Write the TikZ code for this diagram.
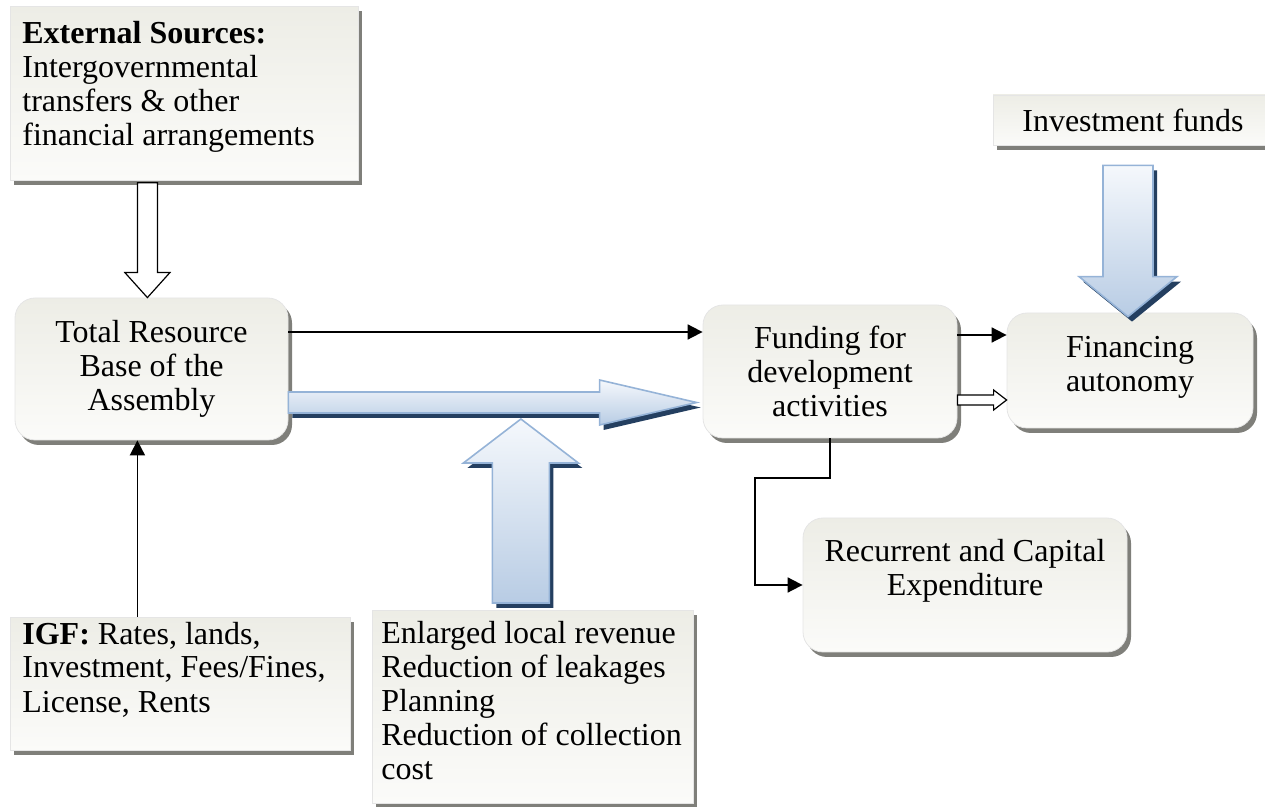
\documentclass[tikz,border=0pt]{standalone}
\usepackage{fontspec}
\setmainfont{Liberation Serif}
\usetikzlibrary{arrows.meta,calc,shadows}

\definecolor{boxtop}{HTML}{EDEDE6}
\definecolor{boxbot}{HTML}{FBFBF9}
\definecolor{boxshade}{HTML}{7F7F7A}
\definecolor{bluetop}{HTML}{F5F8FC}
\definecolor{bluebot}{HTML}{B8CCE4}
\definecolor{blueline}{HTML}{95B3D7}
\definecolor{navy}{HTML}{243F60}

\begin{document}
\begin{tikzpicture}[x=0.5pt, y=-0.5pt,
  font=\fontsize{16pt}{17pt}\selectfont,
  block/.style={draw=black!10, line width=0.4pt, top color=boxtop, bottom color=boxbot,
    drop shadow={shadow xshift=2pt, shadow yshift=-2.5pt, fill=boxshade, opacity=1},
    inner sep=0pt},
  textblock/.style={block, align=flush left, anchor=north west, inner xsep=6pt},
  roundblock/.style={block, rounded corners=10pt, align=center},
  conn/.style={-{Triangle[length=7.5pt, width=7.5pt]}, line width=0.9pt},
  blockarrow/.style n args={3}{to path={let \p1=(\tikztostart), \p2=(\tikztotarget),
      \n1={atan2(\y2-\y1,\x2-\x1)} in
      ($(\p1)+(\n1+90:#1)$) -- ($(\p2)+(\n1+180:#3)+(\n1+90:#1)$)
      -- ($(\p2)+(\n1+180:#3)+(\n1+90:#2)$) -- (\p2)
      -- ($(\p2)+(\n1+180:#3)+(\n1-90:#2)$) -- ($(\p2)+(\n1+180:#3)+(\n1-90:#1)$)
      -- ($(\p1)+(\n1-90:#1)$) -- cycle}},
  hollow/.style={draw=black, line width=0.6pt, fill=white},
  bluearrow/.style={draw=blueline, line width=0.8pt, top color=bluetop, bottom color=bluebot,
    drop shadow={shadow xshift=2pt, shadow yshift=-2.5pt, fill=navy, opacity=1}}]

  \useasboundingbox (0,0) rectangle (1265,807);

  % sources
  \node[textblock, text width=162pt, minimum height=87pt, text depth=60.5pt] (ext) at (10,6)
    {\textbf{External Sources:}\\ Intergovernmental\\ transfers \& other\\ financial arrangements};
  \node[textblock, text width=158pt, minimum height=66.5pt, text depth=51pt] (igf) at (10,617)
    {\textbf{IGF:} Rates, lands,\\ Investment, Fees/Fines,\\ License, Rents};
  \node[textblock, inner xsep=4.5pt, text width=151.5pt, minimum height=96.5pt, text depth=74.5pt] (enl) at (372,610)
    {Enlarged local revenue\\ Reduction of leakages\\ Planning\\ Reduction of collection\\ cost};
  \node[block, minimum width=140pt, minimum height=25pt] (inv) at (1133,120) {Investment funds};

  % main flow
  \node[roundblock, minimum width=136.5pt, minimum height=71pt] (total) at (151.5,369)
    {Total Resource\\ Base of the\\ Assembly};
  \node[roundblock, minimum width=127pt, minimum height=66.5pt] (fund) at (830,371.5)
    {Funding for\\ development\\ activities};
  \node[roundblock, minimum width=123pt, minimum height=57.5pt, text depth=6.5pt] (fin) at (1130,370.5)
    {Financing\\ autonomy};
  \node[roundblock, minimum width=162pt, minimum height=67pt, text depth=17.5pt] (rec) at (965,585)
    {Recurrent and Capital\\ Expenditure};

  \coordinate (extout)  at ($(ext.south)+(-37,2)$);
  \coordinate (baseout) at ($(total.east)+(0,33.5)$);
  \coordinate (enlout)  at ($(enl.north)+(-12,-7)$);
  \coordinate (merge)   at ($(enlout |- baseout)+(0,16.5)$);
  \coordinate (invout)  at ($(fin.north |- inv.south)+(-2,20)$);
  \coordinate (fundout) at ($(fund.east)+(0,28.5)$);
  \coordinate (igfup)   at ($(igf.north)+(-43,0)$);

  % thin connectors
  \draw[conn] ($(total.east)+(0,-37)$) -- ($(total.east -| fund.west)+(0,-37)$);
  \draw[conn] ($(fund.east)+(0,-36.5)$) -- ($(fund.east -| fin.west)+(0,-36.5)$);
  \draw[conn] (igfup) -- (igfup |- total.south);
  \draw[conn] (fund.south) -- ++(0,40) -| ($(rec.west)+(-48,0)$) -- (rec.west);

  % block arrows
  \draw[hollow, blockarrow={5pt}{11.25pt}{12.5pt}] (extout) to (extout |- total.north);
  \draw[hollow, blockarrow={2.5pt}{5pt}{6.5pt}] (fundout) to (fundout -| fin.west);
  \draw[bluearrow, blockarrow={5.25pt}{11.25pt}{48.5pt}] (baseout) to ($(baseout -| fund.west)+(-6,0)$);
  \draw[bluearrow, blockarrow={14.25pt}{28.75pt}{22pt}] (enlout) to (merge);
  \draw[bluearrow, blockarrow={12.5pt}{24.5pt}{20pt}] (invout) to ($(invout |- fin.north)+(0,4)$);
\end{tikzpicture}
\end{document}
